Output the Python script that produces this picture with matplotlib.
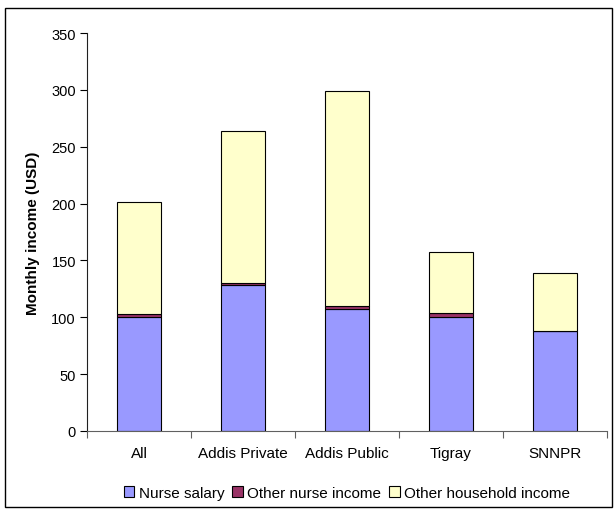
import matplotlib
matplotlib.use("Agg")
import matplotlib.pyplot as plt
from matplotlib.patches import Rectangle
import numpy as np

plt.rcParams['font.family'] = ['Liberation Sans', 'DejaVu Sans']

categories = ["All", "Addis Private", "Addis Public", "Tigray", "SNNPR"]
nurse_salary = [100, 128, 107, 100, 88]
other_nurse_income = [2.5, 2.5, 2.5, 4, 0]
other_household_income = [98.5, 133.5, 189.5, 53, 51]
series_names = ["Nurse salary", "Other nurse income", "Other household income"]
colors = ["#9999FF", "#993366", "#FFFFCC"]
y_ticks = [0, 50, 100, 150, 200, 250, 300, 350]

fig = plt.figure(figsize=(6.16, 5.10), dpi=100)
ax = fig.add_axes([87 / 616, 1 - 432 / 510, 520 / 616, 398 / 510])

x = np.arange(len(categories))
width = 0.415
bottom = np.zeros(len(categories))
handles = []
for name, vals, col in zip(series_names,
                           [nurse_salary, other_nurse_income, other_household_income],
                           colors):
    vals = np.array(vals, dtype=float)
    h = ax.bar(x, vals, width, bottom=bottom, color=col, edgecolor="black",
               linewidth=0.8, label=name)
    handles.append(h)
    bottom += vals

ax.set_xlim(-0.5, len(categories) - 0.5)
ax.set_ylim(0, 350)
ax.set_yticks(y_ticks)
ax.tick_params(axis="y", direction="out", length=5, width=0.8, labelsize=10.5, pad=3)

ax.set_xticks(x)
ax.set_xticklabels(categories)
ax.set_xticks(np.arange(-0.5, len(categories)), minor=True)
ax.tick_params(axis="x", which="major", length=0, labelsize=11, pad=11)
ax.tick_params(axis="x", which="minor", direction="out", length=5, width=0.8,
               color="#606060")

for s in ["top", "right"]:
    ax.spines[s].set_visible(False)
ax.spines["left"].set_color("#202020")
ax.spines["bottom"].set_color("#606060")
ax.spines["left"].set_linewidth(0.8)
ax.spines["bottom"].set_linewidth(0.8)

ax.set_ylabel("Monthly income (USD)", fontsize=11, fontweight="bold", labelpad=8)

leg = ax.legend(handles=handles, loc="center", bbox_to_anchor=(0.5, -0.155),
                ncol=3, frameon=False, fontsize=11, handlelength=0.7,
                handleheight=0.7, handletextpad=0.3, columnspacing=0.5,
                borderaxespad=0)

fig.patches.append(Rectangle((5 / 616, 2 / 510), 607 / 616, 499 / 510,
                             transform=fig.transFigure, fill=False,
                             edgecolor="black", linewidth=1.0))

fig.savefig("out.png", dpi=100)
